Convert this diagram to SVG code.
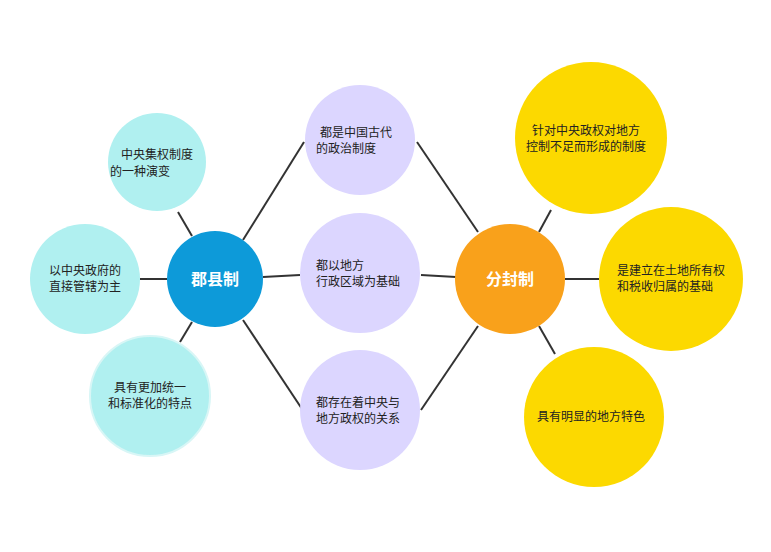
<svg xmlns="http://www.w3.org/2000/svg" width="771" height="552" viewBox="0 0 771 552">
<style>
.t{font-family:"Noto Sans CJK SC","Liberation Sans",sans-serif;font-size:12px;fill:#222;text-anchor:middle}
.h{font-family:"Noto Sans CJK SC","Liberation Sans",sans-serif;font-size:16px;font-weight:bold;fill:#fff;text-anchor:middle}
.c{fill:#b0f0f0}.m{fill:#dcd6ff}.y{fill:#fcd900}
#conn line{stroke:#333;stroke-width:2}
</style>
<rect width="771" height="552" fill="#fff"/>
<g id="conn">
<line x1="192" y1="236" x2="178" y2="212"/>
<line x1="167" y1="279" x2="140" y2="279"/>
<line x1="192" y1="322" x2="180" y2="342"/>
<line x1="243" y1="240" x2="304" y2="142"/>
<line x1="263" y1="277" x2="300" y2="275"/>
<line x1="243" y1="320" x2="304" y2="412"/>
<line x1="417" y1="142" x2="478" y2="232"/>
<line x1="421" y1="275" x2="456" y2="277"/>
<line x1="421" y1="410" x2="478" y2="326"/>
<line x1="539" y1="232" x2="551" y2="210"/>
<line x1="565" y1="279" x2="599" y2="279"/>
<line x1="539" y1="326" x2="555" y2="354"/>
</g>
<g id="n1"><circle cx="215" cy="279" r="48" fill="#0d9ad9"/><text class="h" x="215" y="285">郡县制</text></g>
<g id="n2"><circle cx="510" cy="279" r="55" fill="#f9a11b"/><text class="h" x="510" y="285">分封制</text></g>
<g id="l1"><circle class="c" cx="157" cy="162" r="49"/><text class="t" x="157" y="159">中央集权制度</text><text class="t" x="140" y="176">的一种演变</text></g>
<g id="l2"><circle class="c" cx="85" cy="279" r="55"/><text class="t" x="85" y="275">以中央政府的</text><text class="t" x="85" y="291">直接管辖为主</text></g>
<g id="l3"><circle class="c" cx="150" cy="396" r="60" stroke="#d8f6f6" stroke-width="2"/><text class="t" x="150" y="392">具有更加统一</text><text class="t" x="150" y="408">和标准化的特点</text></g>
<g id="m1"><circle class="m" cx="360" cy="140" r="55"/><text class="t" x="356" y="137">都是中国古代</text><text class="t" x="346" y="153">的政治制度</text></g>
<g id="m2"><circle class="m" cx="360" cy="273" r="60"/><text class="t" x="340" y="270">都以地方</text><text class="t" x="358" y="286">行政区域为基础</text></g>
<g id="m3"><circle class="m" cx="360" cy="410" r="60"/><text class="t" x="358" y="407">都存在着中央与</text><text class="t" x="358" y="423">地方政权的关系</text></g>
<g id="r1"><circle class="y" cx="591" cy="138" r="76"/><text class="t" x="586" y="135">针对中央政权对地方</text><text class="t" x="586" y="151">控制不足而形成的制度</text></g>
<g id="r2"><circle class="y" cx="671" cy="279" r="72"/><text class="t" x="671" y="275">是建立在土地所有权</text><text class="t" x="665" y="291">和税收归属的基础</text></g>
<g id="r3"><circle class="y" cx="594" cy="417" r="70"/><text class="t" x="591" y="421">具有明显的地方特色</text></g>
</svg>
